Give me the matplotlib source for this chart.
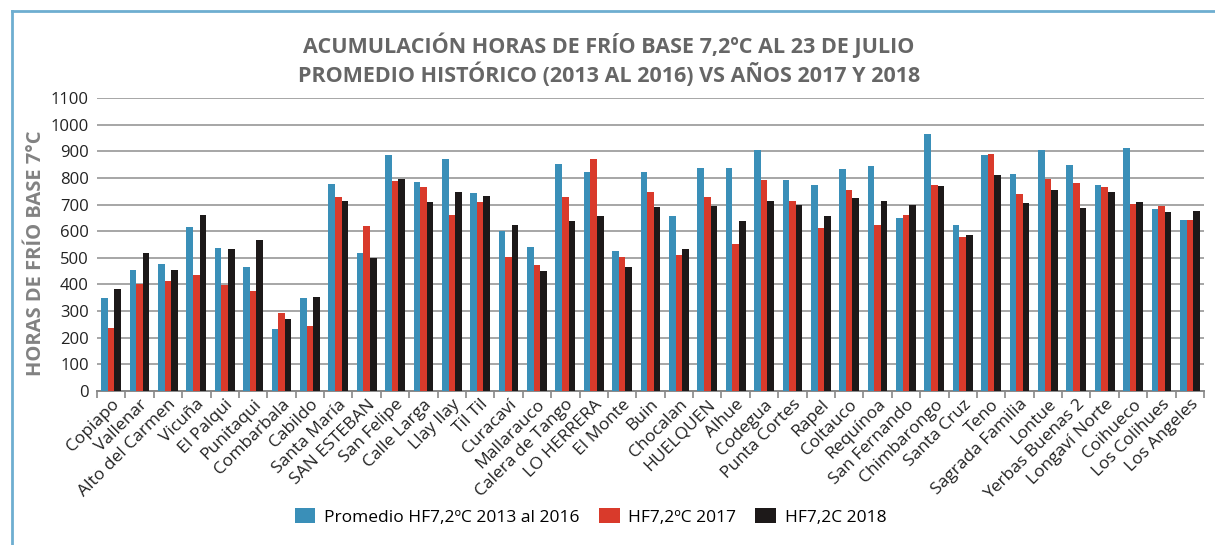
import numpy as np
from matplotlib import pyplot as plt
from matplotlib.lines import Line2D
from matplotlib.ticker import FixedLocator

plt.rcParams['font.family'] = ['Open Sans', 'DejaVu Sans']

estaciones = [
    "Copiapo", "Vallenar", "Alto del Carmen", "Vicuña", "El Palqui", "Punitaqui",
    "Combarbala", "Cabildo", "Santa María", "SAN ESTEBAN", "San Felipe", "Calle Larga",
    "Llay llay", "Til Til", "Curacaví", "Mallarauco", "Calera de Tango", "LO HERRERA",
    "El Monte", "Buin", "Chocalan", "HUELQUEN", "Alhue", "Codegua", "Punta Cortes",
    "Rapel", "Coltauco", "Requínoa", "San Fernando", "Chimbarongo", "Santa Cruz",
    "Teno", "Sagrada Familia", "Lontue", "Yerbas Buenas 2", "Longaví Norte",
    "Coihueco", "Los Colihues", "Los Angeles",
]
promedio = [
    349, 454, 476, 615, 536, 465, 232, 349, 776, 517, 885, 784, 870, 742, 600, 540,
    851, 821, 525, 821, 656, 836, 836, 904, 791, 772, 832, 844, 649, 964, 622, 885,
    814, 904, 847, 772, 911, 682, 641,
]
hf_2017 = [
    236, 401, 412, 435, 397, 375, 292, 244, 727, 619, 787, 765, 660, 709, 502, 472,
    727, 870, 502, 746, 510, 727, 551, 791, 712, 611, 754, 622, 660, 772, 577, 889,
    739, 797, 780, 765, 701, 694, 641,
]
hf_2018 = [
    382, 517, 454, 660, 532, 566, 270, 352, 712, 499, 795, 709, 746, 731, 622, 450,
    637, 656, 465, 690, 532, 694, 637, 712, 697, 656, 724, 712, 697, 769, 585, 810,
    705, 754, 686, 746, 709, 671, 675,
]
series_labels = ["Promedio HF7,2ºC 2013 al 2016", "HF7,2ºC 2017", "HF7,2C 2018"]
colores = ["#3a8fb8", "#d93a2b", "#1d1919"]

fig = plt.figure(figsize=(12.15, 5.45), dpi=100)
ax = fig.add_axes([97 / 1215, 1 - 391 / 545, (1204 - 97) / 1215, (391 - 98) / 545])

# marco azul claro (arriba e izquierda)
fig.add_artist(Line2D([12 / 1215, 1], [1 - 11 / 545] * 2, color='#6eaed0', linewidth=2))
fig.add_artist(Line2D([12 / 1215] * 2, [0, 1 - 11 / 545], color='#6eaed0', linewidth=2))

x = np.arange(len(estaciones))
w = 0.232
for i, (vals, lab, col) in enumerate(zip([promedio, hf_2017, hf_2018], series_labels, colores)):
    ax.bar(x + (i - 1) * w, vals, width=w, color=col, label=lab, zorder=3)

ax.set_xlim(-0.5, len(estaciones) - 0.5)
ax.set_ylim(0, 1100)
ax.set_yticks(range(0, 1101, 100))
ax.grid(axis='y', color='#a6a6a6', linewidth=1.4, zorder=0)
ax.tick_params(axis='y', length=0, labelsize=12, pad=6, labelcolor='#222222')

ax.set_xticks(x)
ax.set_xticklabels(estaciones, rotation=45, ha='right', rotation_mode='anchor',
                   fontsize=12.5, color='#222222')
ax.tick_params(axis='x', which='major', length=0, pad=4)
ax.xaxis.set_minor_locator(FixedLocator(np.arange(-0.5, len(estaciones), 1)))
ax.tick_params(axis='x', which='minor', length=5, width=1.2, color='#888888')

for s in ['top', 'right', 'left']:
    ax.spines[s].set_visible(False)
ax.spines['bottom'].set_color('#888888')
ax.spines['bottom'].set_linewidth(1.4)

ax.set_ylabel("HORAS DE FRÍO BASE 7°C", fontsize=14.5, fontweight='bold',
              color='#828282')
ax.yaxis.set_label_coords(-0.046, 0.47)

fig.text(0.501, 0.89, "ACUMULACIÓN HORAS DE FRÍO BASE 7,2ºC AL 23 DE JULIO\n"
         "PROMEDIO HISTÓRICO (2013 AL 2016) VS AÑOS 2017 Y 2018",
         ha='center', va='center', fontsize=15.5, fontweight='bold',
         color='#666666', linespacing=1.22)

fig.legend(loc='center', bbox_to_anchor=(0.486, 0.052), ncol=3, frameon=False,
           fontsize=12.5, handlelength=1.2, handleheight=1.0, columnspacing=1.1,
           handletextpad=0.5)

fig.savefig("out.png", dpi=100)
